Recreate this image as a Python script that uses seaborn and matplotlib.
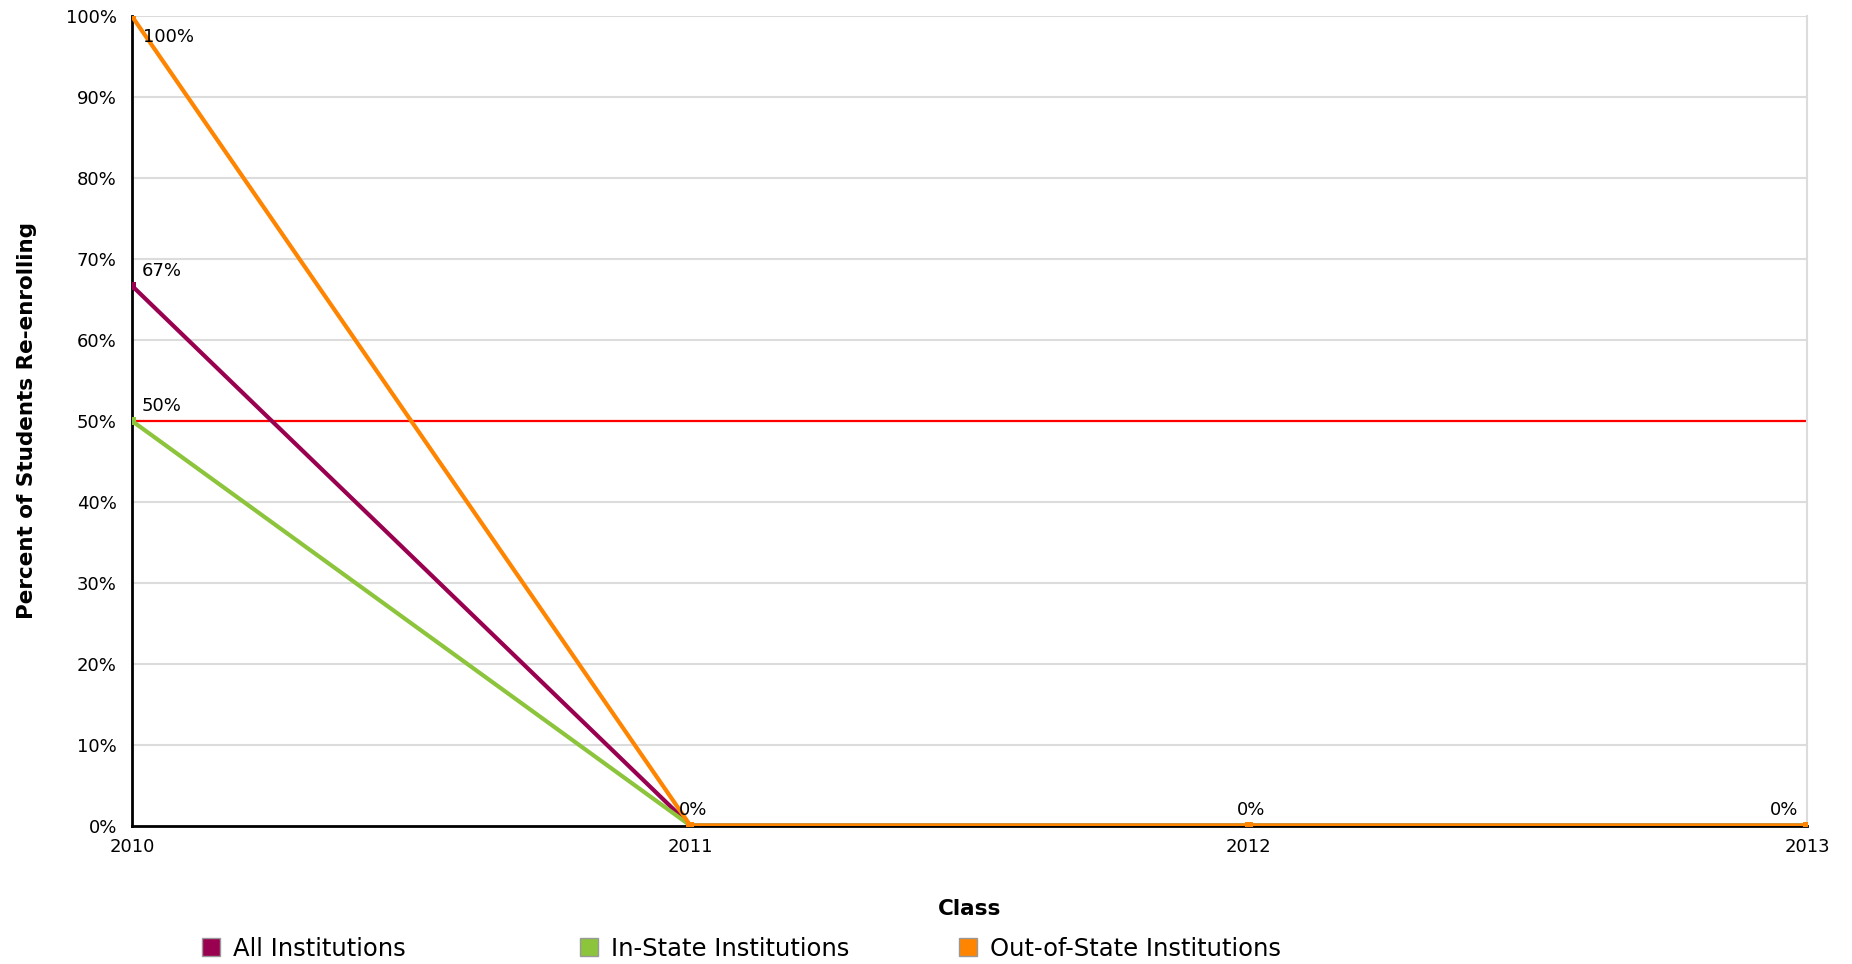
import pandas as pd
import matplotlib.pyplot as plt
import seaborn as sns

# chart values
years = [2010, 2011, 2012, 2013]
series_names = ['All Institutions', 'In-State Institutions', 'Out-of-State Institutions']
all_inst = [66.7, 0, 0, 0]
in_state = [50, 0, 0, 0]
out_state = [100, 0, 0, 0]
benchmark = 50
y_ticks = [0, 10, 20, 30, 40, 50, 60, 70, 80, 90, 100]
colors = ['#990050', '#8cc43c', '#ff8400']


def make_chart():
    frames = []
    for name, vals in zip(series_names, [all_inst, in_state, out_state]):
        frames.append(pd.DataFrame({'Class': years, 'Percent': vals, 'Series': name}))
    data = pd.concat(frames, ignore_index=True)

    sns.set_style('white')
    plt.rcParams['font.family'] = ['DejaVu Sans']
    plt.rcParams['text.color'] = 'black'
    plt.rcParams['axes.labelcolor'] = 'black'
    plt.rcParams['xtick.color'] = 'black'
    plt.rcParams['ytick.color'] = 'black'

    fig = plt.figure(figsize=(18.52, 9.64), dpi=100)
    ax = fig.add_axes([0.0713, 0.1436, 0.9044, 0.8394])

    # grid first so lines sit on top
    for t in y_ticks[1:]:
        ax.axhline(t, color='#dcdcdc', lw=1.5, zorder=0)
    ax.axhline(benchmark, color='#ff0000', lw=1.6, zorder=1)

    sns.lineplot(data=data, x='Class', y='Percent', hue='Series',
                 hue_order=series_names, palette=colors, lw=3,
                 marker='s', markersize=6, markeredgewidth=0,
                 legend=False, ax=ax, zorder=3)

    # data labels
    ax.annotate('100%', (years[0], out_state[0]), xytext=(8, -15),
                textcoords='offset points', fontsize=13, ha='left', va='center')
    ax.annotate('67%', (years[0], all_inst[0]), xytext=(7, 11),
                textcoords='offset points', fontsize=13, ha='left', va='center')
    ax.annotate('50%', (years[0], in_state[0]), xytext=(7, 11),
                textcoords='offset points', fontsize=13, ha='left', va='center')
    for i, yr in enumerate(years[1:], start=1):
        ha = 'right' if i == len(years) - 1 else 'center'
        dx = -6 if i == len(years) - 1 else 2
        ax.annotate(f'{out_state[i]:.0f}%', (yr, out_state[i]), xytext=(dx, 11),
                    textcoords='offset points', fontsize=13, ha=ha, va='center')

    ax.set_xlim(years[0], years[-1])
    ax.set_ylim(0, 100)
    ax.set_xticks(years)
    ax.set_xticklabels([str(y) for y in years], fontsize=13)
    ax.set_yticks(y_ticks)
    ax.set_yticklabels([f'{t}%' for t in y_ticks], fontsize=13)
    ax.tick_params(axis='y', length=9, width=1.5, color='black', pad=2)
    ax.tick_params(axis='x', length=0, pad=9)

    ax.spines['left'].set_color('black')
    ax.spines['left'].set_linewidth(2)
    ax.spines['bottom'].set_color('black')
    ax.spines['bottom'].set_linewidth(2)
    ax.spines['top'].set_visible(False)
    ax.spines['right'].set_color('#dcdcdc')
    ax.spines['right'].set_linewidth(1.5)

    ax.set_xlabel('Class', fontsize=15.5, fontweight='bold', labelpad=31)
    ax.set_ylabel('Percent of Students Re-enrolling', fontsize=15.5,
                  fontweight='bold', labelpad=21)

    # one legend per entry so each sits where the reference puts it
    legend_x = [0.1075, 0.3115, 0.516]
    for name, c, lx in zip(series_names, colors, legend_x):
        h = plt.Line2D([], [], marker='s', ls='none', markersize=13,
                       markerfacecolor=c, markeredgecolor='#999999')
        fig.legend([h], [name], loc='center left', bbox_to_anchor=(lx, 0.016),
                   frameon=False, fontsize=17.5, handletextpad=0.4,
                   borderaxespad=0, borderpad=0, handlelength=1.0)

    plt.savefig('out.png', dpi=100)
    plt.close()


if __name__ == "__main__":
    make_chart()
